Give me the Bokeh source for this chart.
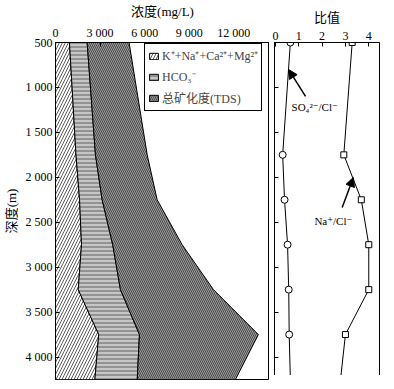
from bokeh.plotting import figure
from bokeh.layouts import row
from bokeh.models import Range1d, FixedTicker, Legend, LegendItem, Arrow, NormalHead, Label
from bokeh.embed import file_html
from bokeh.resources import INLINE

# ---- data ----
depth = [500, 1750, 2250, 2750, 3250, 3750, 4250]
cation = [940, 1380, 1620, 1750, 1530, 2910, 2650]      # K+ + Na+ + Ca2+ + Mg2+
hco3 = [1190, 1310, 1520, 2100, 2840, 2740, 2850]       # HCO3-
tds = [4950, 6170, 6840, 8520, 10630, 13650, 12110]     # total dissolved solids
so4_cl = [0.64, 0.31, 0.39, 0.52, 0.57, 0.59, 0.64]
na_cl = [3.29, 2.93, 3.68, 4.00, 4.00, 3.00, 2.79]

conc_ticks = [0, 3000, 6000, 9000, 12000]
conc_labels = ["0", "3 000", "6 000", "9 000", "12 000"]
depth_ticks = [500, 1000, 1500, 2000, 2500, 3000, 3500, 4000]
depth_labels = ["500", "1 000", "1 500", "2 000", "2 500", "3 000", "3 500", "4 000"]
ratio_ticks = [0, 1, 2, 3, 4]
ratio_labels = ["0", "1", "2", "3", "4"]

legend_labels = ["K\u207a+Na\u207a+Ca\u00b2\u207a+Mg\u00b2\u207a", "HCO\u2083\u207b", "总矿化度(TDS)"]
so4_label = "SO\u2084\u00b2\u207b/Cl\u207b"
na_label = "Na\u207a/Cl\u207b"

SERIF = "Liberation Serif, DejaVu Serif, Noto Sans CJK SC"
CJK = "Liberation Serif, Noto Sans CJK SC"


def style_axis(ax, ticks, labels):
    ax.ticker = FixedTicker(ticks=ticks)
    ax.major_label_overrides = {t: l for t, l in zip(ticks, labels)}
    ax.minor_tick_line_color = None
    ax.major_tick_in = 4
    ax.major_tick_out = 0
    ax.axis_line_color = "black"
    ax.major_tick_line_color = "black"
    ax.major_label_text_font = SERIF
    ax.major_label_text_font_size = "12px"
    ax.major_label_text_color = "black"
    ax.major_label_standoff = 3
    ax.axis_label_text_font = CJK
    ax.axis_label_text_font_size = "13px"
    ax.axis_label_text_font_style = "normal"
    ax.axis_label_text_color = "black"
    ax.axis_label_standoff = 4


# ---- left panel: concentrations ----
p1 = figure(frame_width=214, frame_height=337,
            x_range=Range1d(0, 14400), y_range=Range1d(4250, 500),
            x_axis_location="above", output_backend="svg", toolbar_location=None,
            min_border_left=47, min_border_right=0, min_border_top=35, min_border_bottom=2)
p1.grid.visible = False
p1.outline_line_color = "black"
p1.outline_line_alpha = 1

cum = [c + h for c, h in zip(cation, hco3)]
ys = depth + depth[::-1]
r1 = p1.patch([0] * len(depth) + cation[::-1], ys, fill_color="white",
              hatch_pattern="/", hatch_color="#333333", hatch_scale=6, hatch_weight=0.8,
              line_color="black", line_width=1)
r2 = p1.patch(cation + cum[::-1], ys, fill_color="#c6c6c6",
              hatch_pattern="-", hatch_color="#444444", hatch_scale=4, hatch_weight=0.8,
              line_color="black", line_width=1)
r3 = p1.patch(cum + tds[::-1], ys, fill_color="#9c9c9c",
              hatch_pattern="\\", hatch_color="#333333", hatch_scale=4, hatch_weight=0.8,
              line_color="black", line_width=1)

style_axis(p1.xaxis[0], conc_ticks, conc_labels)
p1.xaxis[0].axis_label = "浓度(mg/L)"
style_axis(p1.yaxis[0], depth_ticks, depth_labels)
p1.yaxis[0].axis_label = "深度(m)"

legend = Legend(items=[LegendItem(label=legend_labels[0], renderers=[r1]),
                       LegendItem(label=legend_labels[1], renderers=[r2]),
                       LegendItem(label=legend_labels[2], renderers=[r3])],
                location=(89, 268), border_line_color="black", border_line_width=1,
                border_line_alpha=1, background_fill_color="white", background_fill_alpha=1,
                padding=3, spacing=4, label_height=14, glyph_height=8, glyph_width=11,
                label_standoff=3, label_text_font=CJK, label_text_font_size="12px",
                margin=0)
p1.add_layout(legend)

# ---- right panel: ratios ----
p2 = figure(frame_width=105, frame_height=337,
            x_range=Range1d(-0.04, 4.46), y_range=Range1d(4250, 500),
            x_axis_location="above", output_backend="svg", toolbar_location=None,
            min_border_left=5, min_border_right=6, min_border_top=35, min_border_bottom=2)
p2.grid.visible = False
p2.outline_line_color = "black"
p2.outline_line_alpha = 1

p2.line(so4_cl, depth, line_color="black", line_width=1)
p2.scatter(so4_cl, depth, marker="circle", size=7, fill_color="white", line_color="black")
p2.line(na_cl, depth, line_color="black", line_width=1)
p2.scatter(na_cl, depth, marker="square", size=6, fill_color="white", line_color="black")

style_axis(p2.xaxis[0], ratio_ticks, ratio_labels)
p2.xaxis[0].axis_label = "比值"
style_axis(p2.yaxis[0], depth_ticks, [""] * len(depth_ticks))
p2.yaxis[0].major_label_text_font_size = "0px"
p2.yaxis[0].major_label_standoff = 0

p2.add_layout(Arrow(end=NormalHead(size=9, fill_color="black", line_color="black"),
                    x_start=1.29, y_start=1100, x_end=0.56, y_end=800,
                    line_width=1.5, line_color="black"))
p2.add_layout(Arrow(end=NormalHead(size=9, fill_color="black", line_color="black"),
                    x_start=2.86, y_start=2335, x_end=3.34, y_end=2002,
                    line_width=1.5, line_color="black"))
p2.add_layout(Label(x=0.69, y=1223, text=so4_label, text_font=SERIF,
                    text_font_size="11px", text_baseline="middle", text_color="black"))
p2.add_layout(Label(x=1.67, y=2491, text=na_label, text_font=SERIF,
                    text_font_size="11px", text_baseline="middle", text_color="black"))

layout = row(p1, p2)
open("out.html", "w").write(file_html(layout, INLINE))
